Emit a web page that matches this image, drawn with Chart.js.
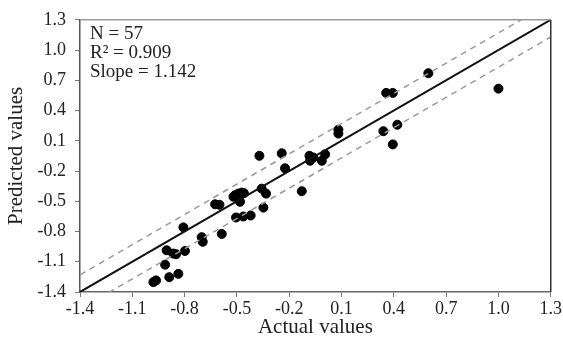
<!DOCTYPE html>
<html lang="en">
<head>
<meta charset="UTF-8">
<title>Predicted vs actual</title>
<script src="https://cdn.jsdelivr.net/npm/chart.js@4.4.0/dist/chart.umd.min.js"></script>
<style>
  html, body { margin: 0; padding: 0; background: #fff; }
</style>
</head>
<body>
<canvas id="chart" width="563" height="340"></canvas>
<script>
// values
const actual = [-0.979, -0.964, -0.888, -0.836, -0.912, -0.903, -0.865, -0.849, -0.798, -0.807,
    -0.702, -0.696, -0.587, -0.625, -0.600, -0.511, -0.492, -0.472, -0.482, -0.520,
    -0.460, -0.505, -0.463, -0.421, -0.358, -0.333, -0.348, -0.371, -0.243, -0.224,
    -0.128, -0.084, -0.080, -0.061, -0.013, 0.006, 0.082, 0.082, 0.340, 0.420,
    0.394, 0.356, 0.394, 0.598, 1.000];
const predicted = [-1.302, -1.285, -1.253, -1.220, -1.129, -0.986, -1.019, -1.025, -0.993, -0.759,
    -0.856, -0.902, -0.824, -0.530, -0.535, -0.440, -0.424, -0.414, -0.505, -0.455,
    -0.420, -0.661, -0.651, -0.641, -0.375, -0.424, -0.563, -0.049, -0.024, -0.173,
    -0.400, -0.049, -0.098, -0.066, -0.098, -0.034, 0.210, 0.171, 0.195, 0.259,
    0.064, 0.575, 0.575, 0.770, 0.617];
const xTicks = [-1.4, -1.1, -0.8, -0.5, -0.2, 0.1, 0.4, 0.7, 1.0, 1.3];
const yTicks = [-1.4, -1.1, -0.8, -0.5, -0.2, 0.1, 0.4, 0.7, 1.0, 1.3];
const lineEnds = [-1.4, 1.3];
const bandOffset = 0.17;
const statsLines = ['N = 57', 'R² = 0.909', 'Slope = 1.142'];

const serif = 'Liberation Serif';
const points = actual.map((x, i) => ({ x: x, y: predicted[i] }));

// frame on top/right and the stats text
const extras = {
    id: 'extras',
    afterDraw(chart) {
        const ctx = chart.ctx;
        const a = chart.chartArea;
        ctx.save();
        ctx.lineWidth = 1.5;
        ctx.strokeStyle = '#999';
        ctx.beginPath();
        ctx.moveTo(a.left, a.top);
        ctx.lineTo(a.right, a.top);
        ctx.stroke();
        ctx.strokeStyle = '#333';
        ctx.beginPath();
        ctx.moveTo(a.right, a.top);
        ctx.lineTo(a.right, a.bottom);
        ctx.stroke();

        ctx.fillStyle = '#222';
        ctx.font = '19px "' + serif + '"';
        ctx.textBaseline = 'middle';
        statsLines.forEach((t, i) => ctx.fillText(t, a.left + 10, a.top + 14 + i * 19));
        ctx.restore();
    }
};

new Chart(document.getElementById('chart'), {
    type: 'scatter',
    data: {
        datasets: [
            {
                type: 'line',
                data: lineEnds.map(v => ({ x: v, y: v + bandOffset })),
                borderColor: '#999',
                borderWidth: 1.5,
                borderDash: [6, 5],
                pointRadius: 0
            },
            {
                type: 'line',
                data: lineEnds.map(v => ({ x: v, y: v - bandOffset })),
                borderColor: '#999',
                borderWidth: 1.5,
                borderDash: [6, 5],
                pointRadius: 0
            },
            {
                type: 'line',
                data: lineEnds.map(v => ({ x: v, y: v })),
                borderColor: '#111',
                borderWidth: 2,
                pointRadius: 0
            },
            {
                data: points,
                backgroundColor: '#000',
                borderColor: '#000',
                pointRadius: 4.5,
                pointHoverRadius: 4.5
            }
        ]
    },
    options: {
        responsive: false,
        animation: false,
        layout: { padding: { top: 15, right: 12, left: 0, bottom: 0 } },
        plugins: { legend: { display: false }, tooltip: { enabled: false } },
        scales: {
            x: {
                type: 'linear',
                min: -1.4,
                max: 1.3,
                afterBuildTicks: s => { s.ticks = xTicks.map(v => ({ value: v })); },
                afterFit: s => { s.height = 48; },
                ticks: {
                    callback: v => v.toFixed(1),
                    font: { family: serif, size: 18 },
                    color: '#222',
                    padding: 1,
                    maxRotation: 0
                },
                grid: { drawOnChartArea: false, tickLength: 5, color: '#777' },
                border: { color: '#666', width: 1.5 },
                title: {
                    display: true,
                    text: 'Actual values',
                    font: { family: serif, size: 21 },
                    color: '#222',
                    padding: { top: 0, bottom: 0 }
                }
            },
            y: {
                type: 'linear',
                min: -1.4,
                max: 1.3,
                afterBuildTicks: s => { s.ticks = yTicks.map(v => ({ value: v })); },
                afterFit: s => { s.width = 80; },
                ticks: {
                    callback: v => v.toFixed(1),
                    font: { family: serif, size: 18 },
                    color: '#222',
                    padding: 9
                },
                grid: { drawOnChartArea: false, tickLength: 5, color: '#777' },
                border: { color: '#555', width: 1.5 },
                title: {
                    display: true,
                    text: 'Predicted values',
                    font: { family: serif, size: 21 },
                    color: '#222',
                    padding: { top: 4, bottom: 0 }
                }
            }
        }
    },
    plugins: [extras]
});
</script>
</body>
</html>
